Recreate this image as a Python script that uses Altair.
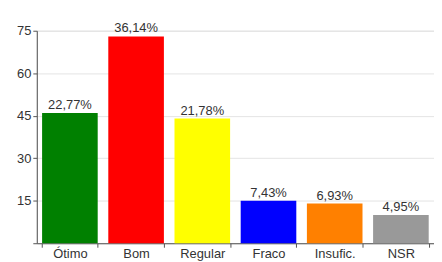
import altair as alt
import pandas as pd

categories = ["Ótimo", "Bom", "Regular", "Fraco", "Insufic.", "NSR"]
values = [46, 73, 44, 15, 14, 10]
labels = ["22,77%", "36,14%", "21,78%", "7,43%", "6,93%", "4,95%"]
colors = ["#008000", "#FF0000", "#FFFF00", "#0000FF", "#FF8000", "#999999"]
y_ticks = [0, 7.5, 15, 22.5, 30, 37.5, 45, 52.5, 60, 67.5, 75]

df = pd.DataFrame({"cat": categories, "val": values, "lab": labels, "col": colors})

font = "Liberation Sans"
x = alt.X("cat:N", sort=categories, title=None,
          scale=alt.Scale(paddingInner=0.16, paddingOuter=0.08),
          axis=alt.Axis(labelAngle=0, tickBand="extent", labelFontSize=13,
                        labelColor="#333", labelFont=font, domainColor="#555",
                        tickColor="#555", tickSize=4, labelPadding=0,
                        labelBaseline="top"))
y = alt.Y("val:Q", title=None,
          scale=alt.Scale(domain=[0, 75], nice=False),
          axis=alt.Axis(values=y_ticks,
                        labelExpr="datum.value % 15 == 0 && datum.value > 0 ? datum.label : ''",
                        labelFontSize=13, labelColor="#333", labelFont=font,
                        domainColor="#555", tickColor="#555", tickSize=4,
                        gridColor="#e4e4e4", labelPadding=2))

bars = alt.Chart(df).mark_bar().encode(
    x=x, y=y, color=alt.Color("col:N", scale=None)
)
text = alt.Chart(df).mark_text(dy=-8, fontSize=13, font=font, color="#333").encode(
    x=alt.X("cat:N", sort=categories), y="val:Q", text="lab:N"
)

chart = (bars + text).properties(
    width=400, height=214,
    autosize=alt.AutoSizeParams(type="none"),
    padding={"left": 29, "top": 22, "right": 0, "bottom": 18},
).configure_view(stroke="#bbb").configure(background="white")

chart.save("out.html", embed_options={"renderer": "svg", "actions": False})
